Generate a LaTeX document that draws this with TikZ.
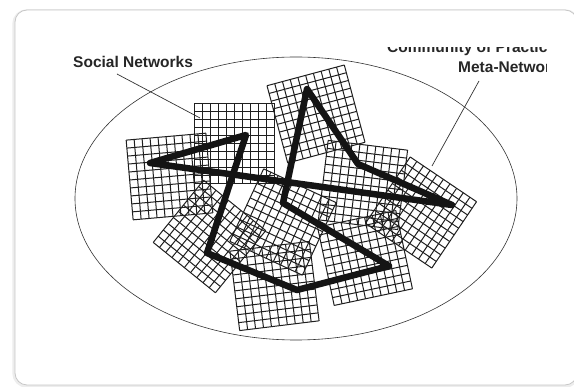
\documentclass[tikz,border=0pt]{standalone}
\usepackage{fontspec}
\newfontfamily\labelfont{Liberation Sans}
\usetikzlibrary{calc}

\begin{document}
\begin{tikzpicture}[x=1pt, y=-1pt,
  card/.style={draw=black!22, line width=0.8pt, rounded corners=12pt, fill=white},
  cardshade/.style={draw=black!7, line width=3.5pt, rounded corners=13pt},
  mesh/.style={draw=black!88, line width=1pt},
  tie/.style={draw=black!92, line width=6.5pt, line join=round},
  pointer/.style={draw=black!80, line width=0.7pt},
  tag/.style={font=\labelfont\bfseries\fontsize{15.5}{18}\selectfont, text=black!85, inner sep=0pt},
]
\def\cell{8}     % grid cell
\def\half{40}    % half side of one grid

\useasboundingbox[fill=white] (0,0) rectangle (574,387);

% card
\draw[cardshade] (14,11) rectangle (578,386);
\draw[card] (15,10) rectangle (577,385);

% meta-network boundary
\draw[black!80, line width=0.6pt] (296,198.5) ellipse [x radius=221, y radius=141.5];

% social networks: centre x / centre y / turn
\foreach \gx/\gy/\ga in {234/143.5/0, 169.5/176.5/5, 316/114/15, 363/185/-7,
                         274.5/286/7, 365/258/12, 421/212.5/-34,
                         209.5/236.5/-39, 283/222/-25} {
  \begin{scope}[shift={(\gx,\gy)}, rotate=\ga]
    \foreach \k in {0,...,10} {
      \draw[mesh] (-\half+\k*\cell,-\half) -- ++(0,2*\half);
      \draw[mesh] (-\half,-\half+\k*\cell) -- ++(2*\half,0);
    }
  \end{scope}
}

% community of practice links
\coordinate (a) at (150,163);
\coordinate (b) at (246,135);
\coordinate (c) at (207,253);
\coordinate (d) at (297,290);
\coordinate (e) at (389,266);
\coordinate (f) at (283,203);
\coordinate (g) at (307,89);
\coordinate (h) at (358,164);
\coordinate (i) at (452,205);
\draw[tie] (a) -- (b) -- (c) -- (d) -- (e) -- (f) -- (g) -- (h) -- (i) -- cycle;

% labels
\node[tag, anchor=base west] (social) at (73,67.5) {Social Networks};
\begin{scope}
  \clip (300,47.5) rectangle (546,90);
  \node[tag, anchor=base west] (cop) at (387,53) {Community of Practice};
  \node[tag, anchor=base west] (meta) at (458,72.5) {Meta-Network};
\end{scope}

\coordinate (social tip) at (117,74);
\coordinate (social end) at (200,118);
\coordinate (meta tip) at (479,81);
\coordinate (meta end) at (432,166);
\draw[pointer] (social tip) -- (social end);
\draw[pointer] (meta tip) -- (meta end);
\end{tikzpicture}
\end{document}
